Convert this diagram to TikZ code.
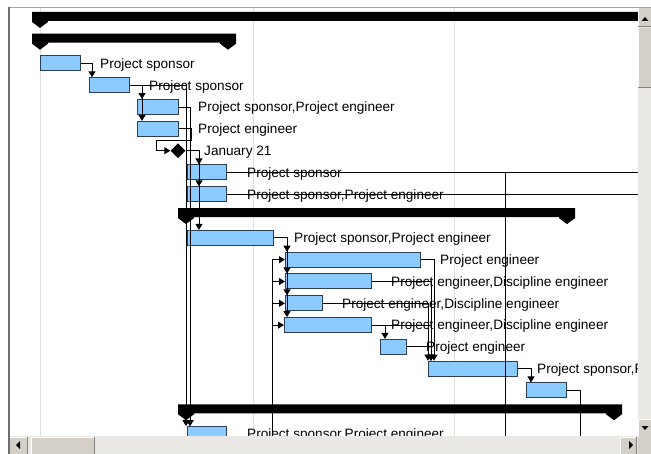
\documentclass[tikz,border=0pt]{standalone}
\usepackage{fontspec}
\setmainfont{Liberation Sans}
\usetikzlibrary{arrows.meta,shapes.geometric}

\definecolor{barfill}{HTML}{8CCBFF}
\definecolor{barline}{HTML}{2B3F55}
\definecolor{gridcol}{HTML}{E2DEDA}
\definecolor{face}{HTML}{D4D0C8}
\definecolor{trackcol}{HTML}{EAE8E4}
\definecolor{framecol}{HTML}{707070}

% task bar: name, left x, right x, row centre y
\newcommand\ganttbar[4]{\node[taskbar, minimum width={(#3-#2)*1pt}] (#1) at (#2,#4) {};}
% summary bar with end markers: left x, right x, row centre y
\newcommand\sumbar[3]{\fill (#1,#3-8) -- (#2,#3-8) -- (#2,#3+2) -- (#2-8,#3+8) -- (#2-16,#3+2)
  -- (#2-16,#3+1) -- (#1+16,#3+1) -- (#1+16,#3+2) -- (#1+8,#3+8) -- (#1,#3+2) -- cycle;}
% resource label: name, x, row centre y, text
\newcommand\barlabel[4]{\node[lbl] (#1) at (#2,#3+4.8) {#4};}

\begin{document}
\begin{tikzpicture}[x=1pt,y=-1pt,
  taskbar/.style={draw=barline, fill=barfill, line width=1pt, minimum height=15pt, inner sep=0pt, anchor=west},
  lbl/.style={anchor=base west, inner sep=0pt, font=\fontsize{13.6}{16}\selectfont},
  link/.style={line width=1pt, -{Triangle[width=7pt,length=6pt]}},
  plain/.style={line width=1pt},
  gridline/.style={gridcol, line width=1pt},
  btn/.style={fill=face},
]
\useasboundingbox (0,0) rectangle (651,454);
\fill[white] (0,0) rectangle (651,454);

\begin{scope}
\clip (10,8) rectangle (638,436);
% timescale grid
\draw[gridline] (40,8) -- (40,436);
\draw[gridline] (253,8) -- (253,436);
\draw[gridline] (454,8) -- (454,436);

% summary bars
\fill (32,11.9) -- (645,11.9) -- (645,20.9) -- (48,20.9) -- (48,21.9) -- (40,27.9) -- (32,21.9) -- cycle;
\sumbar{32}{236}{41.7}
\sumbar{178}{575}{216.1}
\sumbar{178}{622}{412.3}

% tasks
\ganttbar{t2}{40}{80}{63.5}
\ganttbar{t3}{89}{129}{85.3}
\ganttbar{t4}{137}{178}{107.1}
\ganttbar{t5}{137}{178}{128.9}
\node[diamond, fill=black, minimum size=15pt, inner sep=0pt] (ms) at (178,150.7) {};
\ganttbar{t7}{187}{226}{172.5}
\ganttbar{t8}{187}{226}{194.3}
\ganttbar{t10}{187}{273}{237.9}
\ganttbar{t11}{285}{420}{259.7}
\ganttbar{t12}{285}{371}{281.5}
\ganttbar{t13}{285}{322}{303.3}
\ganttbar{t14}{284}{371}{325.1}
\ganttbar{t15}{380}{406}{346.9}
\ganttbar{t16}{428}{517}{368.7}
\ganttbar{t17}{526}{566}{390.5}
\ganttbar{t19}{187}{226}{434.1}

% resource names
\barlabel{l2}{100}{63.5}{Project sponsor}
\barlabel{l3}{149}{85.3}{Project sponsor}
\barlabel{l4}{198}{107.1}{Project sponsor,Project engineer}
\barlabel{l5}{198}{128.9}{Project engineer}
\barlabel{l6}{204}{150.7}{January 21}
\barlabel{l7}{247}{172.5}{Project sponsor}
\barlabel{l8}{247}{194.3}{Project sponsor,Project engineer}
\barlabel{l10}{294}{237.9}{Project sponsor,Project engineer}
\barlabel{l11}{440}{259.7}{Project engineer}
\barlabel{l12}{391}{281.5}{Project engineer,Discipline engineer}
\barlabel{l13}{342}{303.3}{Project engineer,Discipline engineer}
\barlabel{l14}{391}{325.1}{Project engineer,Discipline engineer}
\barlabel{l15}{426}{346.9}{Project engineer}
\barlabel{l16}{537}{368.7}{Project sponsor,P}
\barlabel{l19}{247}{434.1}{Project sponsor,Project engineer}

% off-screen link ends
\coordinate (e7) at (645,172.5);
\coordinate (e8) at (645,194.3);
\coordinate (d7) at (505,445);
\coordinate (b11) at (272,445);
\coordinate (b17) at (580,445);

% dependency links
\draw[link] (t2.east) -| ([xshift=3pt]t3.north west);
\draw[link] (t3.east) -| ([xshift=5pt]t4.north west);
\draw[link] (t3.east) -| ([xshift=5pt]t5.north west);
\draw[link] (t3.east) -| ([xshift=-1pt]t19.north west);
\draw[link] (t4.east) -| ([xshift=3pt]t19.north west);
\draw[link] (t5.east) -| ([xshift=3pt]t19.north west);
\draw[link] (t5.east) -- ++(12,0) |- ([xshift=-14pt,yshift=10pt]ms.west) |- (ms.west);
\draw[link] (ms.east) -| ([xshift=12pt]t7.north west);
\draw[link] (ms.east) -| ([xshift=12pt]t8.north west);
\draw[link] (ms.east) -| ([xshift=12pt]t10.north west);
\draw[plain] (t7.east) -- (e7);
\draw[plain] (t7.east) -| (d7);
\draw[plain] (t8.east) -- (e8);
\draw[link] (t10.east) -| ([xshift=2pt]t11.north west);
\draw[link] (t10.east) -| ([xshift=2pt]t12.north west);
\draw[link] (t10.east) -| ([xshift=2pt]t13.north west);
\draw[link] (t10.east) -| ([xshift=3pt]t14.north west);
\draw[link] (b11) |- (t11.west);
\draw[link] (b11) |- (t12.west);
\draw[link] (b11) |- (t13.west);
\draw[link] (b11) |- (t14.west);
\draw[link] (t11.east) -| ([xshift=6pt]t16.north west);
\draw[link] (t12.east) -| ([xshift=3pt]t16.north west);
\draw[link] (t13.east) -| ([xshift=0pt]t16.north west);
\draw[link] (t14.east) -| ([xshift=3pt]t16.north west);
\draw[link] (t15.east) -| ([xshift=3pt]t16.north west);
\draw[link] (t14.east) -| ([xshift=5pt]t15.north west);
\draw[link] (t16.east) -| ([xshift=5pt]t17.north west);
\draw[plain] (t17.east) -| (b17);
\end{scope}

% window frame
\draw[gray!70, line width=1.2pt] (9,7.4) -- (651,7.4);
\draw[framecol, line width=1.5pt] (9.2,7) -- (9.2,454);

% vertical scroll bar
\fill[trackcol] (638,8) rectangle (651,436);
\fill[btn] (638,8) rectangle (651,27);
\draw[gray] (638,26.5) -- (651,26.5);
\draw[white] (638.5,8) -- (638.5,26);
\fill (641.5,21) -- (648.5,21) -- (645,17) -- cycle;
\fill[btn] (638,28) rectangle (651,88);
\draw[white] (638.5,28) -- (638.5,87);
\draw[gray] (638,87.5) -- (651,87.5);
\fill[btn] (638,419) rectangle (651,436);
\draw[white] (638.5,419) -- (638.5,436);
\draw[white] (638,419.5) -- (651,419.5);
\fill (641.5,426) -- (648.5,426) -- (645,430) -- cycle;

% horizontal scroll bar
\fill[trackcol] (10,436) rectangle (651,454);
\fill[btn] (10,437) rectangle (28,454);
\draw[white] (10,437.5) -- (28,437.5);
\draw[gray] (27.5,437) -- (27.5,454);
\fill (16,445) -- (20,441) -- (20,449) -- cycle;
\fill[btn] (31,437) rectangle (95,454);
\draw[white] (31,437.5) -- (95,437.5);
\draw[white] (31.5,437) -- (31.5,454);
\draw[gray] (94.5,437) -- (94.5,454);
\fill[btn] (620,437) rectangle (637,454);
\draw[white] (620,437.5) -- (637,437.5);
\draw[white] (620.5,437) -- (620.5,454);
\draw[gray] (636.5,437) -- (636.5,454);
\fill (633,445) -- (629,441) -- (629,449) -- cycle;
\fill[btn] (638,436) rectangle (651,454);
\end{tikzpicture}
\end{document}
